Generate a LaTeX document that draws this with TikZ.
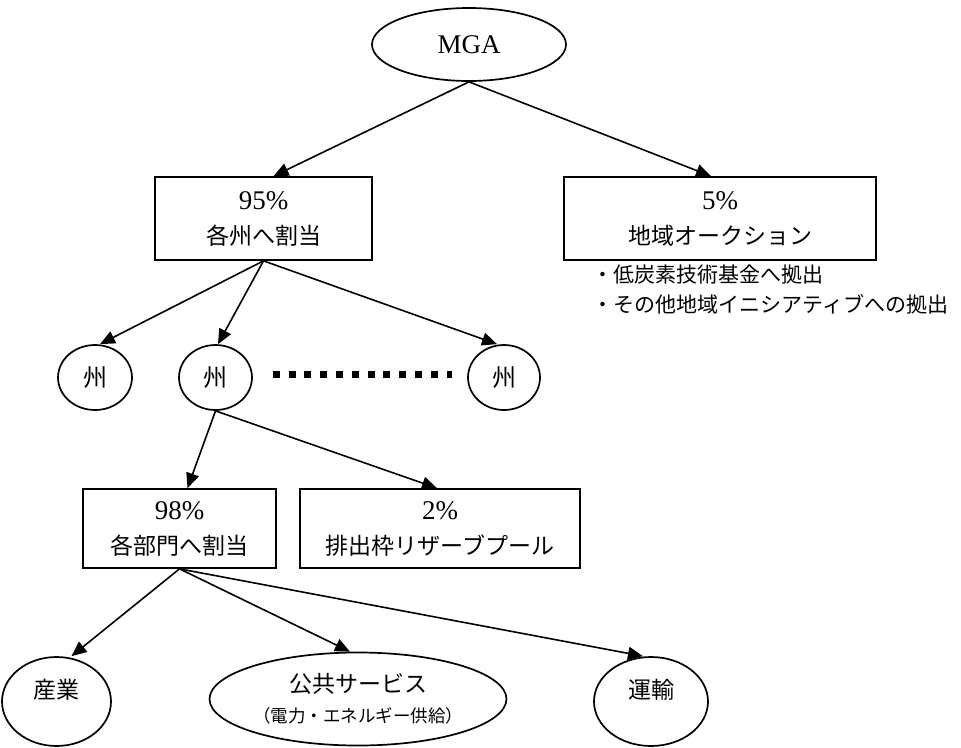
\documentclass[tikz,border=0pt]{standalone}
\usepackage{fontspec}
\setmainfont{Liberation Serif}
\newfontfamily\jp{Noto Sans CJK JP}
\usetikzlibrary{arrows.meta,shapes.geometric}
\begin{document}
\begin{tikzpicture}[x=1pt,y=-1pt,
  line width=1.7pt,
  edge/.style={-{Triangle[length=15pt,width=13pt]}, line width=1.6pt},
  ell/.style={draw, ellipse, inner sep=0pt, line width=1.7pt},
  box/.style={draw, rectangle, inner sep=0pt, align=center, line width=1.7pt},
  numfont/.style={font=\fontsize{27}{35}\selectfont},
  jpfont/.style={font=\jp\fontsize{23}{35}\selectfont},
  notefont/.style={font=\jp\fontsize{21}{24}\selectfont},
]
\useasboundingbox (0,0) rectangle (961,747);

% nodes
\node[ell, numfont, minimum width=194pt, minimum height=73pt] (mga) at (469,44.5) {MGA};

\node[box, numfont, minimum width=217pt, minimum height=83pt] (b95) at (263.5,218.5)
  {95\%\\{\jp\fontsize{23}{35}\selectfont 各州へ割当}};
\node[box, numfont, minimum width=312pt, minimum height=83pt] (b5) at (720,218.5)
  {5\%\\{\jp\fontsize{23}{35}\selectfont 地域オークション}};

\node[notefont, anchor=west, inner sep=0pt] (note1) at (592,275) {・低炭素技術基金へ拠出};
\node[notefont, anchor=west, inner sep=0pt] (note2) at (592,304) {・その他地域イニシアティブへの拠出};

\node[ell, jpfont, minimum width=74pt, minimum height=65pt] (s1) at (95,377.5) {\fontsize{24}{30}\selectfont 州};
\node[ell, jpfont, minimum width=73pt, minimum height=65pt] (s2) at (215.5,377.5) {\fontsize{24}{30}\selectfont 州};
\node[ell, jpfont, minimum width=72pt, minimum height=65pt] (s3) at (504,377.5) {\fontsize{24}{30}\selectfont 州};

\node[box, numfont, minimum width=193pt, minimum height=79pt] (b98) at (179.5,528.5)
  {98\%\\{\jp\fontsize{23}{35}\selectfont 各部門へ割当}};
\node[box, numfont, minimum width=280pt, minimum height=79pt] (b2) at (440,528.5)
  {2\%\\{\jp\fontsize{23}{35}\selectfont 排出枠リザーブプール}};

\node[ell, jpfont, minimum width=109pt, minimum height=89pt] (ind) at (56.5,701.5)
  {\raisebox{12pt}[\height][\depth]{産業}};
\node[ell, minimum width=292pt, minimum height=93pt, align=center,
      font=\jp\fontsize{23}{30}\selectfont] (pub) at (358,699)
  {公共サービス\\{\fontsize{17.5}{30}\selectfont （電力・エネルギー供給）}};
\node[ell, jpfont, minimum width=114pt, minimum height=89pt] (trn) at (651,701.5)
  {\raisebox{12pt}[\height][\depth]{運輸}};

% dotted separator between states
\draw[line width=7pt, dash pattern=on 7pt off 8.8pt]
  ([xshift=20pt,yshift=3.5pt]s2.east) -- ([xshift=-15pt,yshift=3.5pt]s3.west);

% connectors
\draw[edge] (mga.south) -- ([xshift=10pt]b95.north);
\draw[edge] (mga.south) -- ([xshift=-9pt]b5.north);

\draw[edge] (b95.south) -- ([xshift=5pt]s1.north);
\draw[edge] (b95.south) -- ([xshift=2.5pt]s2.north);
\draw[edge] (b95.south) -- ([xshift=-7pt]s3.north);

\draw[edge] (s2.south) -- ([xshift=8pt]b98.north);
\draw[edge] (s2.south) -- ([xshift=-3pt]b2.north);

\draw[edge] (b98.south) -- ([xshift=15pt]ind.north);
\draw[edge] (b98.south) -- ([xshift=-8pt]pub.north);
\draw[edge] (b98.south) -- ([xshift=-8pt]trn.north);
\end{tikzpicture}
\end{document}
